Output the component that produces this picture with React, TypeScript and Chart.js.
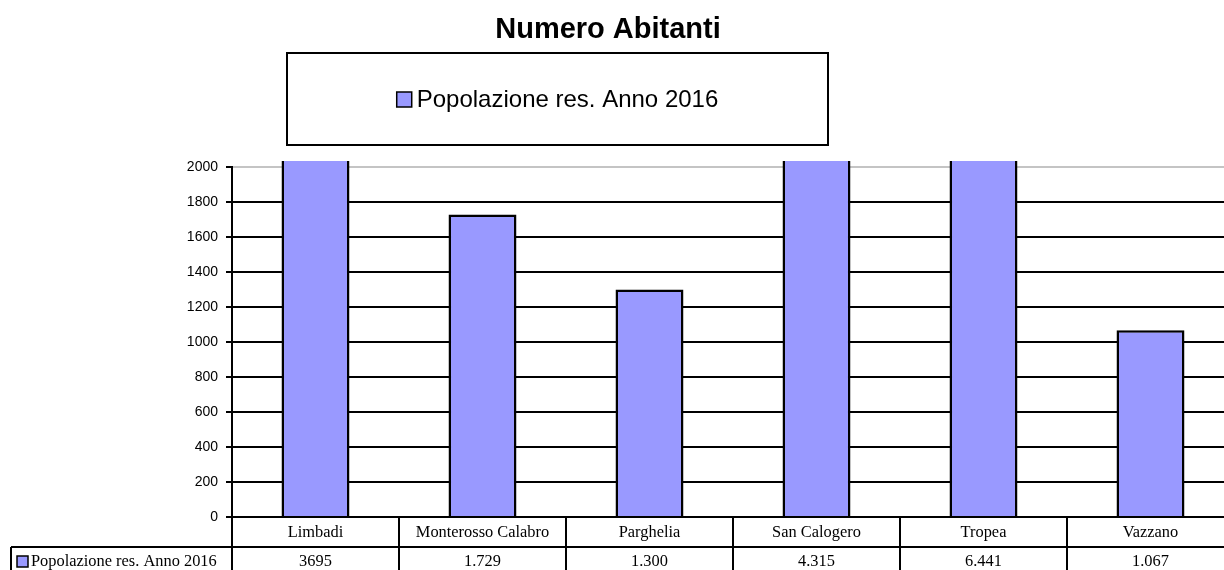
import React, { useEffect, useRef } from "react";
import { Chart, registerables } from "chart.js";

Chart.register(...registerables);

const chartTitle = "Numero Abitanti";
const seriesName = "Popolazione res. Anno 2016";
const categories = ["Limbadi", "Monterosso Calabro", "Parghelia", "San Calogero", "Tropea", "Vazzano"];
const population2016 = [3695, 1729, 1300, 4315, 6441, 1067];
const valueLabels = ["3695", "1.729", "1.300", "4.315", "6.441", "1.067"];
const yTickValues = [0, 200, 400, 600, 800, 1000, 1200, 1400, 1600, 1800, 2000];
const yTopTick = 2000;

const BAR_FILL = "#9999FF";
const SANS = '"Liberation Sans", Arial, sans-serif';
const SERIF = '"Liberation Serif", "Times New Roman", serif';

const decorPlugin = {
  id: "decor",
  afterDraw(chart: any) {
    const ctx = chart.ctx;
    const { left, right, bottom } = chart.chartArea;
    const xs = chart.scales.x;
    const ys = chart.scales.y;
    const H = chart.height;
    ctx.save();
    ctx.fillStyle = "#000";
    ctx.strokeStyle = "#000";

    // Title
    ctx.font = "bold 29px " + SANS;
    ctx.textAlign = "center";
    ctx.textBaseline = "alphabetic";
    ctx.fillText(chartTitle, 608, 38);

    // Legend box
    ctx.lineWidth = 2;
    ctx.strokeRect(287, 53, 541, 92);
    ctx.font = "24px " + SANS;
    const tw = ctx.measureText(seriesName).width;
    const sw = 15;
    const total = sw + 5 + tw;
    const lx = 557.5 - total / 2;
    ctx.fillStyle = BAR_FILL;
    ctx.fillRect(lx, 92, sw, sw);
    ctx.lineWidth = 1.5;
    ctx.strokeRect(lx, 92, sw, sw);
    ctx.fillStyle = "#000";
    ctx.textAlign = "left";
    ctx.fillText(seriesName, lx + sw + 5, 107);

    // Y axis line
    ctx.lineWidth = 2;
    ctx.beginPath();
    ctx.moveTo(left, ys.getPixelForValue(yTopTick) - 1);
    ctx.lineTo(left, H);
    ctx.stroke();

    // Data table
    const w = xs.getPixelForValue(1) - xs.getPixelForValue(0);
    const rowY = 547;
    ctx.beginPath();
    ctx.moveTo(11, rowY);
    ctx.lineTo(right, rowY);
    ctx.moveTo(11, rowY);
    ctx.lineTo(11, H);
    for (let i = 0; i <= categories.length; i++) {
      const bx = Math.round(xs.getPixelForValue(i) - w / 2);
      ctx.moveTo(bx, bottom);
      ctx.lineTo(bx, H);
    }
    ctx.stroke();

    ctx.font = "16.4px " + SERIF;
    ctx.textAlign = "center";
    for (let i = 0; i < categories.length; i++) {
      const cx = xs.getPixelForValue(i);
      ctx.fillText(categories[i], cx, 537);
      ctx.fillText(valueLabels[i], cx, 566);
    }

    // Row header
    ctx.fillStyle = BAR_FILL;
    ctx.fillRect(17, 556, 11, 11);
    ctx.lineWidth = 1.5;
    ctx.strokeRect(17, 556, 11, 11);
    ctx.fillStyle = "#000";
    ctx.textAlign = "left";
    ctx.fillText(seriesName, 31, 566);

    ctx.restore();
  },
};

export default function App() {
  const canvasRef = useRef<HTMLCanvasElement | null>(null);

  useEffect(() => {
    document.body.style.margin = "0";
    const canvas = canvasRef.current;
    if (!canvas) return;
    const chart = new Chart(canvas, {
      type: "bar",
      data: {
        labels: categories,
        datasets: [
          {
            label: seriesName,
            data: population2016,
            backgroundColor: BAR_FILL,
            borderColor: "#000",
            borderWidth: 2.5,
            barPercentage: 0.407,
            categoryPercentage: 1,
          },
        ],
      },
      options: {
        responsive: false,
        animation: false,
        devicePixelRatio: 1,
        layout: { padding: { top: 161, left: 0, right: 6, bottom: 53 } },
        plugins: {
          legend: { display: false },
          title: { display: false },
          tooltip: { enabled: false },
        },
        scales: {
          x: { display: false, offset: true },
          y: {
            min: 0,
            max: yTopTick * 356 / 350,
            afterFit: (scale: any) => {
              scale.width = 232;
            },
            afterBuildTicks: (scale: any) => {
              scale.ticks = yTickValues.map((v) => ({ value: v }));
            },
            border: { display: false },
            ticks: {
              color: "#000",
              padding: 8,
              autoSkip: false,
              font: { family: SANS, size: 14 },
              callback: (v: any) => String(v),
            },
            grid: {
              color: (c: any) => (c.tick && c.tick.value === yTopTick ? "#c4c4c4" : "#000"),
              tickColor: "#000",
              lineWidth: 2,
              tickLength: 6,
            },
          },
        },
      },
      plugins: [decorPlugin],
    });
    return () => chart.destroy();
  }, []);

  return (
    <div style={{ position: "fixed", left: 0, top: 0, width: 1224, height: 570, overflow: "hidden", background: "#fff" }}>
      <canvas ref={canvasRef} width={1240} height={570} style={{ display: "block" }} />
    </div>
  );
}
